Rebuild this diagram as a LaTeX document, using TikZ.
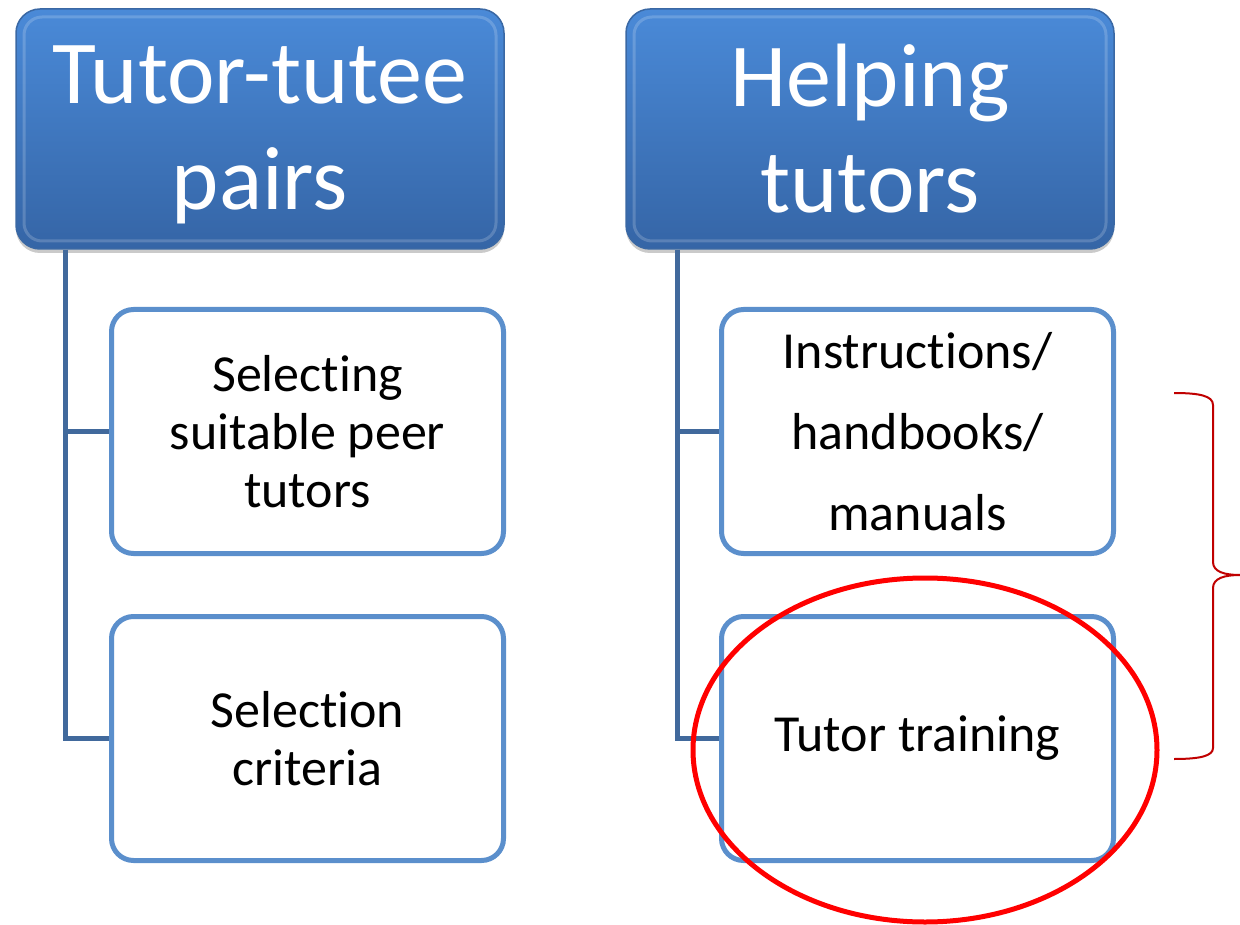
\documentclass[tikz,border=0pt]{standalone}
\usepackage{fontspec}
\setmainfont[Ligatures={NoCommon,NoRare,NoContextual},RawFeature={-liga;-dlig;-calt}]{Carlito}
\usetikzlibrary{shadows,shapes.geometric}
\definecolor{hdtop}{HTML}{4A8AD8}
\definecolor{hdbot}{HTML}{3565A6}
\definecolor{hdborder}{HTML}{3A68A4}
\definecolor{childborder}{HTML}{5B8FCC}
\definecolor{connc}{HTML}{41699C}
\definecolor{bracec}{HTML}{C00000}
\tikzset{
  header/.style={rounded corners=24pt, minimum width=488pt, minimum height=240pt,
    top color=hdtop, bottom color=hdbot, draw=hdborder, line width=1.5pt,
    text=white, align=center, inner sep=0pt,
    drop shadow={shadow xshift=0pt, shadow yshift=-4pt, opacity=0.35, fill=black!60}},
  bevel/.style={rounded corners=18pt, minimum width=472pt, minimum height=224pt,
    draw=white, draw opacity=0.18, line width=3pt, inner sep=0pt},
  htext/.style={text=white, align=center, font=\fontsize{90}{106}\selectfont, inner sep=0pt},
  child/.style={rounded corners=22pt, minimum width=392pt, minimum height=244pt,
    draw=childborder, line width=5pt, fill=white, text=black, align=center, inner sep=0pt},
  conn/.style={draw=connc, line width=5pt},
}
\begin{document}
\begin{tikzpicture}[x=1pt,y=-1pt]
\useasboundingbox (0,0) rectangle (1240,925);
\node[header] (h1) at (260,129) {};
\node[header] (h2) at (870,129) {};
\node[bevel] (b1) at (h1.center) {};
\node[bevel] (b2) at (h2.center) {};
\node[htext] (t1) at (260,135) {Tutor-tutee\\pairs};
\node[htext] (t2) at (870,129) {Helping\\tutors};
\coordinate (v1) at ([xshift=50pt]h1.south west);
\coordinate (v2) at ([xshift=52pt]h2.south west);
\node[child, font=\fontsize{52}{58}\selectfont] (c1) at (307.5,431.5) {Selecting\\suitable peer\\tutors};
\node[child, font=\fontsize{52}{58}\selectfont] (c2) at (307.5,738.5) {Selection\\criteria};
\node[child, font=\fontsize{52}{81}\selectfont] (c3) at (917.5,431.5) {Instructions/\\handbooks/\\manuals};
\node[child, font=\fontsize{52}{58}\selectfont] (c4) at (917.5,738.5) {Tutor training};
\draw[conn] (v1) |- (c1.west);
\draw[conn] (v1) |- (c2.west);
\draw[conn] (v2) |- (c3.west);
\draw[conn] (v2) |- (c4.west);
\node[draw=red, line width=5pt, ellipse, minimum width=464pt, minimum height=344pt, inner sep=0pt] (ring) at (925,750) {};
\coordinate (bt) at (1174,393);
\coordinate (bb) at (1174,759);
\coordinate (tip) at (1240,575);
\draw[bracec, line width=2pt] (bt) .. controls (1200,393) and (1213,396) .. (1213,405)
  -- (1213,562) .. controls (1213,572) and (1225,575) .. (tip)
  .. controls (1225,575) and (1213,578) .. (1213,588)
  -- (1213,748) .. controls (1213,756) and (1200,759) .. (bb);
\end{tikzpicture}
\end{document}
